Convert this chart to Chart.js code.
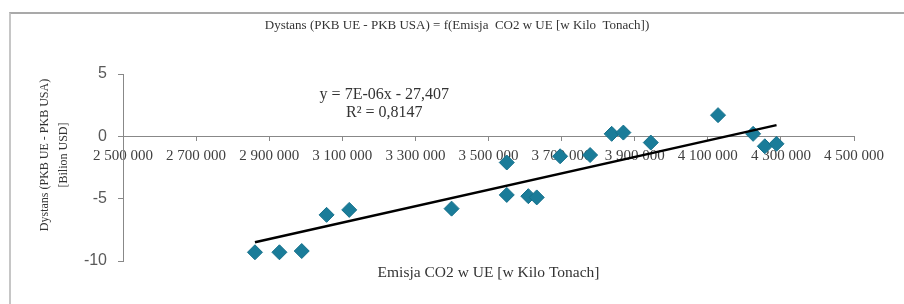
<!DOCTYPE html>
<html>
<head>
<meta charset="utf-8">
<script src="https://cdn.jsdelivr.net/npm/chart.js@4.4.0/dist/chart.umd.min.js"></script>
<style>
  html, body { margin: 0; padding: 0; background: #fff; }
  #wrap { position: relative; width: 904px; height: 304px; overflow: hidden; }
  #frame { position: absolute; left: 9px; top: 12px; right: 0; bottom: 0;
           border-top: 2px solid #a9a9a9; border-left: 2px solid #c6c6c6; pointer-events: none; }
  canvas { position: absolute; left: 0; top: 0; }
</style>
</head>
<body>
<div id="wrap">
  <canvas id="co2Chart" width="904" height="304"></canvas>
  <div id="frame"></div>
</div>
<script>
// dane
const emisja  = [2861000, 2928000, 2989000, 3057000, 3119000, 3399000, 3550000, 3550000, 3609000, 3632000,
                 3696000, 3778000, 3837000, 3869000, 3944000, 4128000, 4224000, 4256000, 4288000];
const dystans = [-9.3, -9.3, -9.2, -6.3, -5.9, -5.8, -2.1, -4.7, -4.8, -4.9,
                 -1.6, -1.5, 0.2, 0.3, -0.5, 1.7, 0.2, -0.8, -0.6];

// linia trendu (koncowki)
const trendX = [2861000, 4288000];
const trendY = [-8.5, 0.9];

const xTickValues = [2500000, 2700000, 2900000, 3100000, 3300000, 3500000, 3700000, 3900000, 4100000, 4300000, 4500000];
const yTickValues = [-10, -5, 0, 5];

const chartTitle = 'Dystans (PKB UE - PKB USA) = f(Emisja  CO2 w UE [w Kilo  Tonach])';
const xTitle = 'Emisja CO2 w UE [w Kilo Tonach]';
const yTitle = ['Dystans (PKB UE - PKB USA)', '[Bilion USD]'];
const eqLines = ['y = 7E-06x - 27,407', 'R\u00B2 = 0,8147'];

function spaced(v) {
    return String(v).replace(/\B(?=(\d{3})+(?!\d))/g, ' ');
}

const serif = '"Liberation Serif", "Times New Roman", serif';

// teksty dodatkowe: tytul osi Y i rownanie trendu
const extraText = {
    id: 'extraText',
    afterDraw(chart) {
        const ctx = chart.ctx;
        const xs = chart.scales.x;
        const ys = chart.scales.y;
        ctx.save();
        ctx.fillStyle = '#333';
        ctx.textAlign = 'center';
        ctx.textBaseline = 'middle';

        ctx.font = '16px ' + serif;
        let ex = xs.getPixelForValue(3215000);
        ctx.fillText(eqLines[0], ex, ys.getPixelForValue(3.3));
        ctx.fillText(eqLines[1], ex, ys.getPixelForValue(1.85));

        ctx.font = '12px ' + serif;
        ctx.translate(0, 155);
        ctx.rotate(-Math.PI / 2);
        ctx.fillText(yTitle[0], 0, 45);
        ctx.fillText(yTitle[1], 0, 64);
        ctx.restore();
    }
};

let ctx = document.getElementById('co2Chart').getContext('2d');
let co2Chart = new Chart(ctx, {
    type: 'scatter',
    data: {
        datasets: [{
            type: 'line',
            data: trendX.map((x, i) => ({ x: x, y: trendY[i] })),
            borderColor: '#000',
            borderWidth: 2.5,
            pointRadius: 0,
            fill: false
        }, {
            data: emisja.map((x, i) => ({ x: x, y: dystans[i] })),
            pointStyle: 'rectRot',
            pointRadius: 7.5,
            backgroundColor: '#1a7c99',
            borderColor: '#16718c',
            borderWidth: 1
        }]
    },
    options: {
        responsive: false,
        animation: false,
        layout: { padding: { left: 10, right: 0, top: 0, bottom: 0 } },
        plugins: {
            legend: { display: false },
            tooltip: { enabled: false },
            title: {
                display: true,
                text: chartTitle,
                color: '#333',
                font: { family: serif, size: 13, weight: 'normal' },
                padding: { top: 18, bottom: 40.4 }
            }
        },
        scales: {
            x: {
                type: 'linear',
                position: { y: 0 },
                min: 2500000,
                max: 4500000,
                afterBuildTicks: function(scale) {
                    scale.ticks = xTickValues.map(v => ({ value: v }));
                },
                ticks: {
                    callback: function(value) { return spaced(value); },
                    color: '#404040',
                    font: { family: serif, size: 15 },
                    padding: 7,
                    maxRotation: 0,
                    autoSkip: false
                },
                grid: { drawOnChartArea: false, drawTicks: true, tickLength: 4, color: '#888' },
                border: { color: '#888', width: 1 }
            },
            x2: {
                type: 'linear',
                position: 'bottom',
                ticks: { display: false },
                grid: { display: false },
                border: { display: false },
                title: {
                    display: true,
                    text: xTitle,
                    color: '#333',
                    font: { family: serif, size: 15.5 },
                    padding: { top: 5, bottom: 22 }
                },
                afterFit: function(scale) { scale.height = 43; }
            },
            y: {
                min: -10,
                max: 5,
                afterBuildTicks: function(scale) {
                    scale.ticks = yTickValues.map(v => ({ value: v }));
                },
                ticks: {
                    color: '#595959',
                    font: { family: '"Liberation Sans", Arial, sans-serif', size: 16 },
                    padding: 11
                },
                grid: { drawOnChartArea: false, drawTicks: true, tickLength: 5, color: '#888' },
                border: { color: '#888', width: 1 },
                afterFit: function(scale) { scale.width = 113; }
            },
            // pusty margines po prawej stronie
            y2: {
                type: 'linear',
                position: 'right',
                ticks: { display: false },
                grid: { display: false },
                border: { display: false },
                afterFit: function(scale) { scale.width = 50; }
            }
        }
    },
    plugins: [extraText]
});
</script>
</body>
</html>
